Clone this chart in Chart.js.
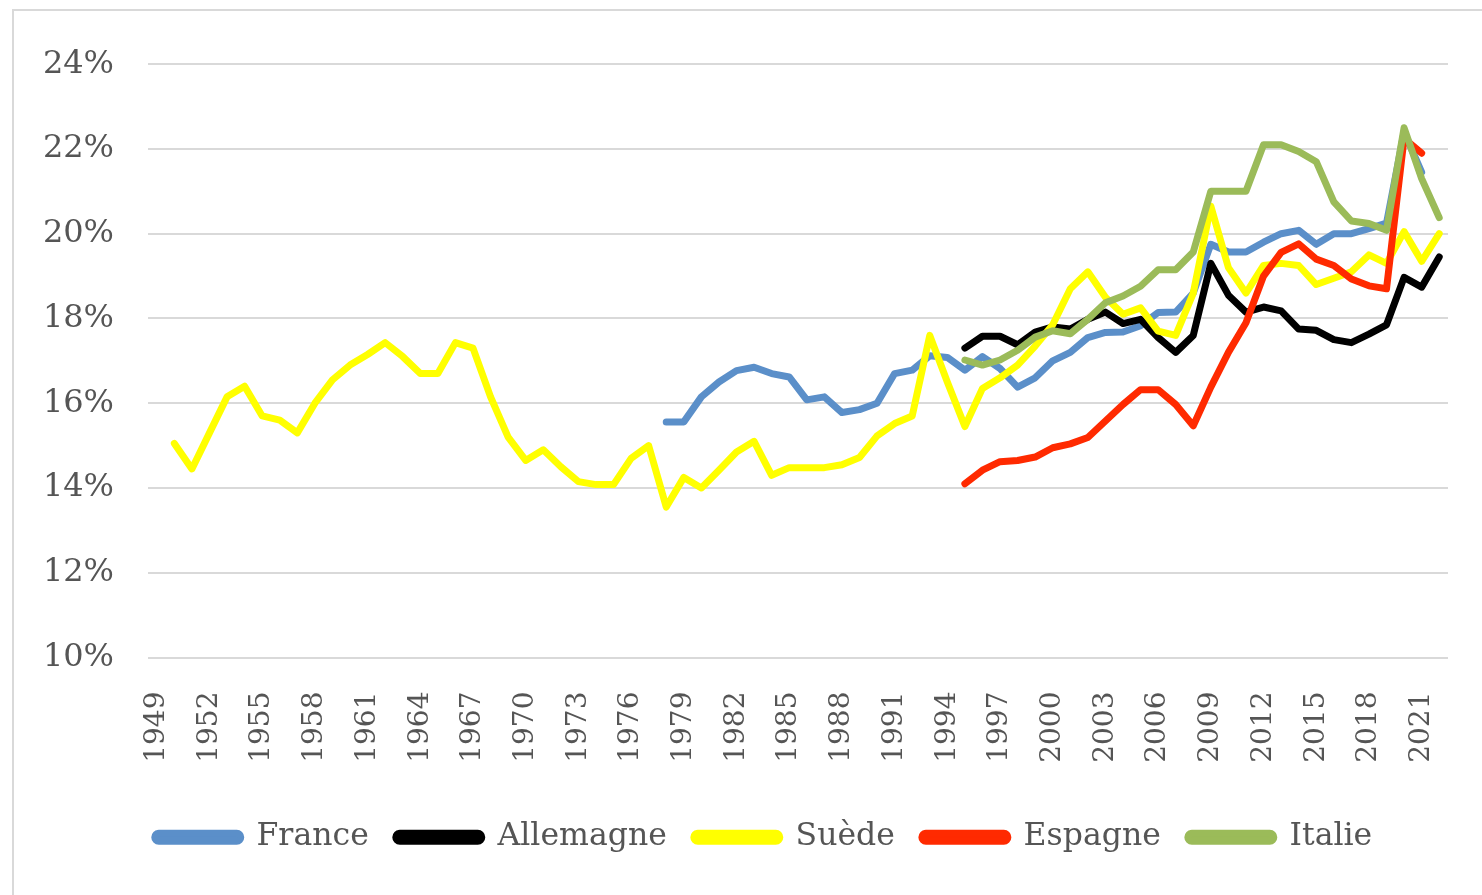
<!DOCTYPE html>
<html>
<head>
<meta charset="utf-8">
<script src="https://cdn.jsdelivr.net/npm/chart.js@4"></script>
<style>
  html, body { margin: 0; padding: 0; background: #fff; }
  body { width: 1482px; height: 895px; overflow: hidden; position: relative; }
  #cadre { position: absolute; left: 12px; top: 9px; width: 1500px; height: 900px;
           border-left: 2px solid #d9d9d9; border-top: 2px solid #d9d9d9; }
  #wrap { position: absolute; left: 14px; top: 11px; width: 1468px; height: 884px; }
</style>
</head>
<body>
<div id="cadre"></div>
<div id="wrap"><canvas id="chart"></canvas></div>
<script>
// Années (axe des catégories)
const annees = ['1949','1950','1951','1952','1953','1954','1955','1956','1957','1958',
  '1959','1960','1961','1962','1963','1964','1965','1966','1967','1968',
  '1969','1970','1971','1972','1973','1974','1975','1976','1977','1978',
  '1979','1980','1981','1982','1983','1984','1985','1986','1987','1988',
  '1989','1990','1991','1992','1993','1994','1995','1996','1997','1998',
  '1999','2000','2001','2002','2003','2004','2005','2006','2007','2008',
  '2009','2010','2011','2012','2013','2014','2015','2016','2017','2018',
  '2019','2020','2021','2022'];

// Séries (en %), chacune commence à son année de début
const debutFrance = '1978';
const france = [15.56, 15.56, 16.15, 16.5, 16.77, 16.85, 16.7, 16.62, 16.08, 16.15,
  15.78, 15.85, 16.0, 16.7, 16.78, 17.12, 17.08, 16.78, 17.1, 16.82,
  16.38, 16.6, 17.0, 17.2, 17.55, 17.67, 17.68, 17.83, 18.14, 18.15,
  18.6, 19.75, 19.57, 19.57, 19.8, 20.0, 20.08, 19.75, 20.0, 20.0,
  20.12, 20.25, 22.4, 21.45];

const debutAllemagne = '1995';
const allemagne = [17.3, 17.58, 17.58, 17.38, 17.68, 17.8, 17.75, 17.98, 18.15, 17.88,
  17.98, 17.55, 17.2, 17.6, 19.3, 18.55, 18.15, 18.27, 18.18, 17.75,
  17.72, 17.5, 17.43, 17.63, 17.85, 18.97, 18.74, 19.45];

const debutSuede = '1950';
const suede = [15.05, 14.45, 15.3, 16.15, 16.4, 15.7, 15.6, 15.3, 16.0, 16.55,
  16.9, 17.15, 17.43, 17.1, 16.7, 16.7, 17.43, 17.3, 16.15, 15.2,
  14.65, 14.9, 14.5, 14.15, 14.08, 14.08, 14.7, 15.0, 13.55, 14.25,
  14.0, 14.42, 14.85, 15.1, 14.3, 14.48, 14.48, 14.48, 14.55, 14.72,
  15.23, 15.52, 15.7, 17.6, 16.5, 15.45, 16.35, 16.6, 16.9, 17.35,
  17.85, 18.7, 19.1, 18.5, 18.1, 18.25, 17.7, 17.6, 18.6, 20.65,
  19.2, 18.6, 19.25, 19.3, 19.25, 18.8, 18.95, 19.1, 19.5, 19.3,
  20.05, 19.35, 20.0];

const debutEspagne = '1995';
const espagne = [14.1, 14.42, 14.62, 14.65, 14.73, 14.95, 15.04, 15.19, 15.58, 15.97,
  16.32, 16.32, 15.97, 15.47, 16.38, 17.2, 17.9, 19.0, 19.56, 19.76,
  19.4, 19.25, 18.93, 18.77, 18.7, 22.25, 21.9];

const debutItalie = '1995';
const italie = [17.02, 16.9, 17.02, 17.25, 17.56, 17.71, 17.64, 17.98, 18.37, 18.53,
  18.76, 19.15, 19.15, 19.57, 21.0, 21.0, 21.0, 22.1, 22.1, 21.94,
  21.7, 20.75, 20.3, 20.24, 20.08, 22.5, 21.3, 20.38];

// Graduations de l'axe Y
const yMin = 10;
const yMax = 24;
const yPas = 2;

// Associer chaque valeur à son année
function versPoints(debut, valeurs) {
  const i0 = annees.indexOf(debut);
  return valeurs.map((v, i) => ({ x: annees[i0 + i], y: v }));
}

function serie(label, debut, valeurs, couleur, ordre) {
  return {
    label: label,
    data: versPoints(debut, valeurs),
    borderColor: couleur,
    backgroundColor: couleur,
    borderWidth: 7,
    borderJoinStyle: 'round',
    borderCapStyle: 'round',
    pointRadius: 0,
    pointHoverRadius: 0,
    tension: 0,
    order: ordre
  };
}

const police = "'DejaVu Serif', serif";
const gris = '#555555';

// Décale la légende vers la droite (centrée sous la zone de tracé)
const decalageLegende = {
  id: 'decalageLegende',
  afterLayout(chart) {
    if (chart.legend) {
      chart.legend.left += 32.5;
      chart.legend.right += 32.5;
    }
  }
};

new Chart(document.getElementById('chart').getContext('2d'), {
  type: 'line',
  data: {
    labels: annees,
    datasets: [
      serie('France', debutFrance, france, '#5b8fc9', 5),
      serie('Allemagne', debutAllemagne, allemagne, '#000000', 4),
      serie('Suède', debutSuede, suede, '#ffff00', 3),
      serie('Espagne', debutEspagne, espagne, '#ff2a00', 2),
      serie('Italie', debutItalie, italie, '#9bbb59', 1)
    ]
  },
  plugins: [decalageLegende],
  options: {
    responsive: true,
    maintainAspectRatio: false,
    animation: false,
    layout: { padding: { top: 36, right: 34, bottom: 32, left: 0 } },
    plugins: {
      legend: {
        position: 'bottom',
        labels: {
          color: gris,
          font: { family: police, size: 31.5 },
          boxWidth: 86,
          boxHeight: 8,
          useBorderRadius: true,
          borderRadius: 4,
          padding: 27,
          sort: (a, b) => a.datasetIndex - b.datasetIndex
        }
      },
      tooltip: { enabled: false }
    },
    scales: {
      x: {
        offset: true,
        grid: { display: false },
        border: { display: false },
        ticks: {
          color: gris,
          font: { family: police, size: 28 },
          autoSkip: false,
          minRotation: 90,
          maxRotation: 90,
          padding: 26,
          callback: function(val, index) {
            return index % 3 === 0 ? annees[index] : '';
          }
        },
        afterFit: function(scale) {
          scale.height = 137;
          scale.paddingRight = 0;
        }
      },
      y: {
        min: yMin,
        max: yMax,
        grid: { color: '#d9d9d9', lineWidth: 2, drawTicks: false },
        border: { display: false },
        ticks: {
          stepSize: yPas,
          color: gris,
          font: { family: police, size: 32 },
          padding: 34,
          callback: v => v + '%'
        },
        afterFit: function(scale) { scale.width = 134; }
      }
    }
  }
});
</script>
</body>
</html>
